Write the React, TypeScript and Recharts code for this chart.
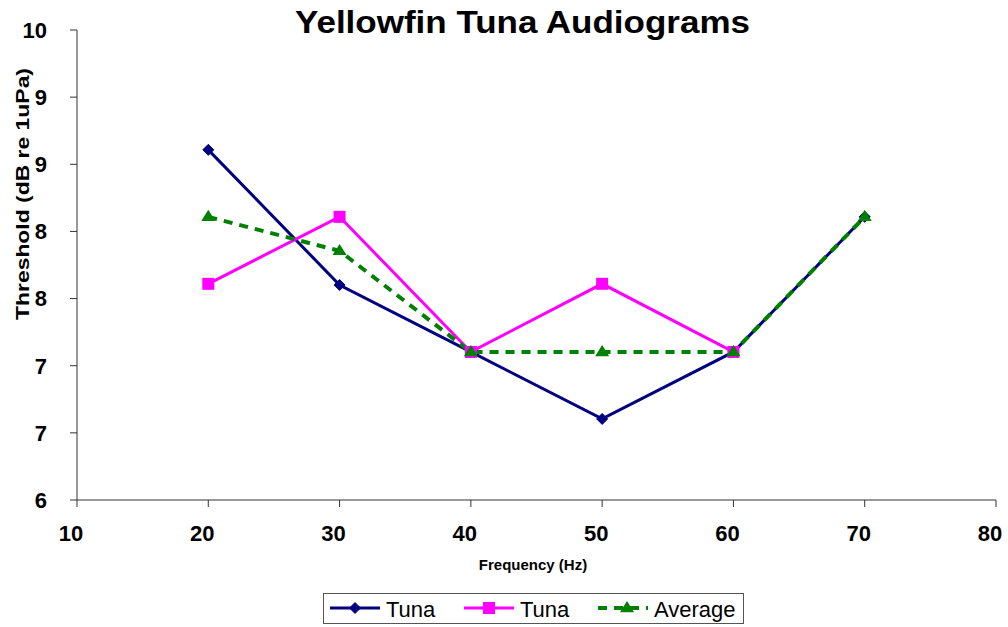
import React from "react";
import { LineChart, Line, XAxis, YAxis } from "recharts";

const frequencies = [20, 30, 40, 50, 60, 70];
const tunaA = [8.98, 7.83, 7.26, 6.69, 7.26, 8.41];
const tunaB: (number | null)[] = [7.84, 8.41, 7.26, 7.84, 7.26, null];
const average = [8.41, 8.12, 7.26, 7.26, 7.26, 8.41];

const xTicks = [10, 20, 30, 40, 50, 60, 70, 80];
const yTicks = [6, 6 + 4 / 7, 6 + 8 / 7, 6 + 12 / 7, 6 + 16 / 7, 6 + 20 / 7, 6 + 24 / 7, 10];

const title = "Yellowfin Tuna Audiograms";
const yLabel = "Threshold (dB re 1uPa)";
const xLabel = "Frequency (Hz)";
const seriesNames = ["Tuna", "Tuna", "Average"];

const data = frequencies.map((f, i) => ({
  x: f,
  a: tunaA[i],
  b: tunaB[i] === null ? undefined : tunaB[i],
  avg: average[i],
}));

const FONT = "'Liberation Sans', Arial, sans-serif";
const NAVY = "#000080";
const MAGENTA = "#FF00FF";
const GREEN = "#008000";

const Diamond = (props: any) => {
  const { cx, cy, index } = props;
  if (cx == null || cy == null) return <g key={`d${index}`} />;
  const r = 5.5;
  return (
    <path
      key={`d${index}`}
      d={`M${cx},${cy - r}L${cx + r},${cy}L${cx},${cy + r}L${cx - r},${cy}Z`}
      fill={NAVY}
      stroke={NAVY}
    />
  );
};

const Square = (props: any) => {
  const { cx, cy, index } = props;
  if (cx == null || cy == null) return <g key={`s${index}`} />;
  const r = 6;
  return <rect key={`s${index}`} x={cx - r} y={cy - r} width={2 * r} height={2 * r} fill={MAGENTA} />;
};

const Triangle = (props: any) => {
  const { cx, cy, index } = props;
  if (cx == null || cy == null) return <g key={`t${index}`} />;
  const r = 7;
  return (
    <path
      key={`t${index}`}
      d={`M${cx},${cy - r}L${cx + r},${cy + r * 0.6}L${cx - r},${cy + r * 0.6}Z`}
      fill={GREEN}
    />
  );
};

export default function App() {
  return (
    <div style={{ position: "absolute", left: 0, top: 0, width: 1008, height: 627, background: "#fff" }}>
      <LineChart
        width={1008}
        height={627}
        data={data}
        margin={{ top: 30, right: 12, bottom: 87, left: 17 }}
      >
        <XAxis
          dataKey="x"
          type="number"
          domain={[10, 80]}
          ticks={xTicks}
          interval={0}
          height={40}
          tickSize={7}
          tickMargin={18}
          axisLine={{ stroke: "#333", strokeWidth: 1 }}
          tickLine={{ stroke: "#333" }}
          tick={{ fill: "#000", fontSize: 22, fontWeight: "bold", fontFamily: FONT, dx: -6 }}
        />
        <YAxis
          type="number"
          domain={[6, 10]}
          ticks={yTicks}
          interval={0}
          width={60}
          tickSize={7}
          tickMargin={23}
          tickFormatter={(v: number) => String(Math.round(v))}
          axisLine={{ stroke: "#333", strokeWidth: 1 }}
          tickLine={{ stroke: "#333" }}
          tick={{ fill: "#000", fontSize: 22, fontWeight: "bold", fontFamily: FONT }}
        />
        <Line
          dataKey="a"
          stroke={NAVY}
          strokeWidth={3}
          dot={Diamond}
          activeDot={false}
          isAnimationActive={false}
        />
        <Line
          dataKey="b"
          stroke={MAGENTA}
          strokeWidth={3}
          dot={Square}
          activeDot={false}
          isAnimationActive={false}
        />
        <Line
          dataKey="avg"
          stroke={GREEN}
          strokeWidth={4}
          strokeDasharray="9 7"
          dot={Triangle}
          activeDot={false}
          isAnimationActive={false}
        />
      </LineChart>
      <svg
        width={1008}
        height={627}
        style={{ position: "absolute", left: 0, top: 0, pointerEvents: "none" }}
      >
        <text
          x={295}
          y={33}
          textLength={455}
          lengthAdjust="spacingAndGlyphs"
          fontFamily={FONT}
          fontWeight="bold"
          fontSize={32}
          fill="#000"
        >
          {title}
        </text>
        <text
          x={29}
          y={194}
          transform="rotate(-90 29 194)"
          textAnchor="middle"
          textLength={252}
          lengthAdjust="spacingAndGlyphs"
          fontFamily={FONT}
          fontWeight="bold"
          fontSize={19}
          fill="#000"
        >
          {yLabel}
        </text>
        <text x={533} y={570} textAnchor="middle" fontFamily={FONT} fontWeight="bold" fontSize={15} fill="#000">
          {xLabel}
        </text>
        <rect x={323.5} y={593.5} width={420} height={30} fill="#fff" stroke="#555" strokeWidth={1} />
        <line x1={330} y1={608} x2={380} y2={608} stroke={NAVY} strokeWidth={3} />
        <Diamond cx={355} cy={608} index={100} />
        <text x={386} y={617} fontFamily={FONT} fontSize={22} fill="#000">{seriesNames[0]}</text>
        <line x1={464} y1={608} x2={514} y2={608} stroke={MAGENTA} strokeWidth={3} />
        <Square cx={489} cy={608} index={101} />
        <text x={520} y={617} fontFamily={FONT} fontSize={22} fill="#000">{seriesNames[1]}</text>
        <line x1={598} y1={608} x2={648} y2={608} stroke={GREEN} strokeWidth={4} strokeDasharray="9 7" />
        <Triangle cx={627} cy={608} index={102} />
        <text x={654} y={617} fontFamily={FONT} fontSize={22} fill="#000">{seriesNames[2]}</text>
      </svg>
    </div>
  );
}
